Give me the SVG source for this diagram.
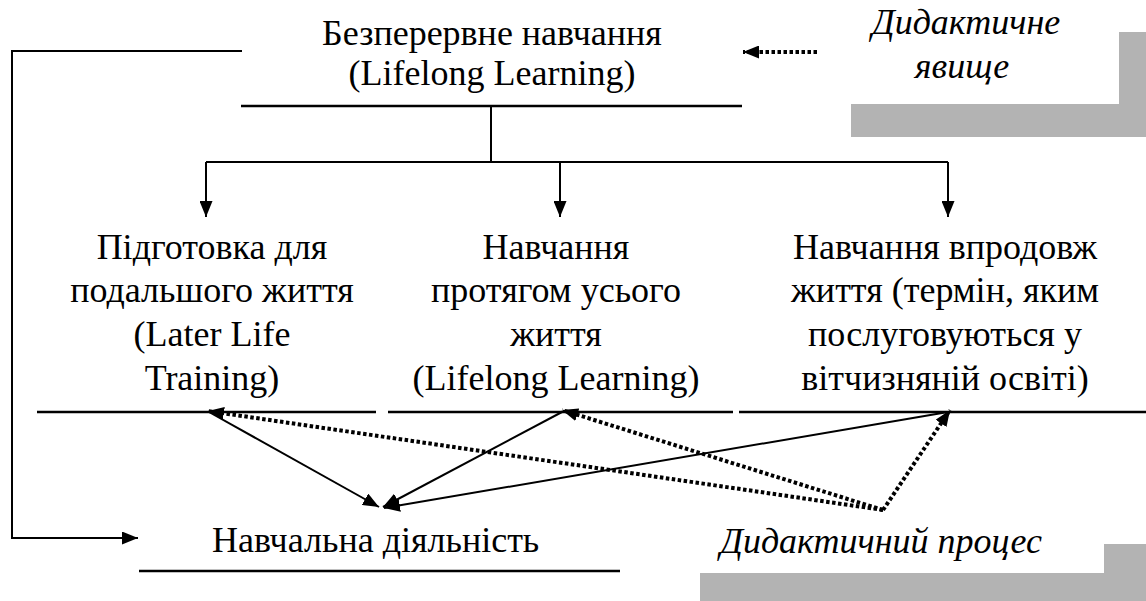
<svg xmlns="http://www.w3.org/2000/svg" width="1146" height="601" viewBox="0 0 1146 601">
<style>
text{font-family:'Liberation Serif','DejaVu Serif',serif;font-size:36px;fill:#000}
.m{text-anchor:middle}
.i{font-style:italic}
.ln{stroke:#000;stroke-width:2.5;fill:none}
.s{stroke:#000;stroke-width:2;fill:none}
.d{stroke:#000;stroke-width:4;fill:none;stroke-dasharray:3.5 2.5}
.g{fill:#b3b3b3}
</style>
<defs>
<marker id="a" markerUnits="userSpaceOnUse" markerWidth="16" markerHeight="13" refX="16" refY="6.5" orient="auto">
<path d="M0,0 L16,6.5 L0,13 z" fill="#000"/>
</marker>
</defs>
<rect width="1146" height="601" fill="#fff"/>
<g id="shade-top"><path class="g" d="M1119,32 H1146 V137 H851 V104 H1119 Z"/></g>
<g id="shade-bottom"><path class="g" d="M1104,544 H1146 V601 H700 V573 H1104 Z"/></g>
<g id="n-top">
<text class="m" x="492" y="45">Безперервне навчання</text>
<text class="m" x="492" y="85">(Lifelong Learning)</text>
<line class="ln" x1="241" y1="106" x2="742" y2="106"/>
</g>
<g id="n-phenomenon">
<text class="i m" x="966" y="34">Дидактичне</text>
<text class="i m" x="962" y="78">явище</text>
</g>
<g id="n-col1">
<text class="m" x="212" y="259">Підготовка для</text>
<text class="m" x="212" y="302">подальшого життя</text>
<text class="m" x="212" y="346">(Later Life</text>
<text class="m" x="212" y="390">Training)</text>
<line class="ln" x1="37" y1="412" x2="376" y2="412"/>
</g>
<g id="n-col2">
<text class="m" x="556" y="259">Навчання</text>
<text class="m" x="556" y="302">протягом усього</text>
<text class="m" x="556" y="346">життя</text>
<text class="m" x="556" y="390">(Lifelong Learning)</text>
<line class="ln" x1="388" y1="412" x2="733" y2="412"/>
</g>
<g id="n-col3">
<text class="m" x="945" y="259">Навчання впродовж</text>
<text class="m" x="945" y="302">життя (термін, яким</text>
<text class="m" x="945" y="346">послуговуються у</text>
<text class="m" x="945" y="390">вітчизняній освіті)</text>
<line class="ln" x1="739" y1="412" x2="1146" y2="412"/>
</g>
<g id="n-activity">
<text x="212" y="552">Навчальна діяльність</text>
<line class="ln" x1="139" y1="571" x2="620" y2="571"/>
</g>
<g id="n-process">
<text class="i" x="720" y="553">Дидактичний процес</text>
</g>
<g id="connectors">
<polyline class="s" points="242,51 12,51 12,538 138,538" marker-end="url(#a)"/>
<line class="d" x1="817" y1="52" x2="743" y2="52" marker-end="url(#a)"/>
<line class="s" x1="491" y1="106" x2="491" y2="162"/>
<line class="s" x1="206" y1="162" x2="948" y2="162"/>
<line class="s" x1="206" y1="162" x2="206" y2="217" marker-end="url(#a)"/>
<line class="s" x1="560" y1="162" x2="560" y2="217" marker-end="url(#a)"/>
<line class="s" x1="948" y1="162" x2="948" y2="217" marker-end="url(#a)"/>
<line class="s" x1="209" y1="412" x2="379" y2="507" marker-end="url(#a)"/>
<line class="s" x1="562" y1="412" x2="383" y2="507" marker-end="url(#a)"/>
<line class="s" x1="948" y1="412" x2="384" y2="508" marker-end="url(#a)"/>
<line class="d" x1="883" y1="510" x2="208" y2="411" marker-end="url(#a)"/>
<line class="d" x1="883" y1="510" x2="562" y2="410" marker-end="url(#a)"/>
<line class="d" x1="883" y1="510" x2="950" y2="410" marker-end="url(#a)"/>
</g>
</svg>
